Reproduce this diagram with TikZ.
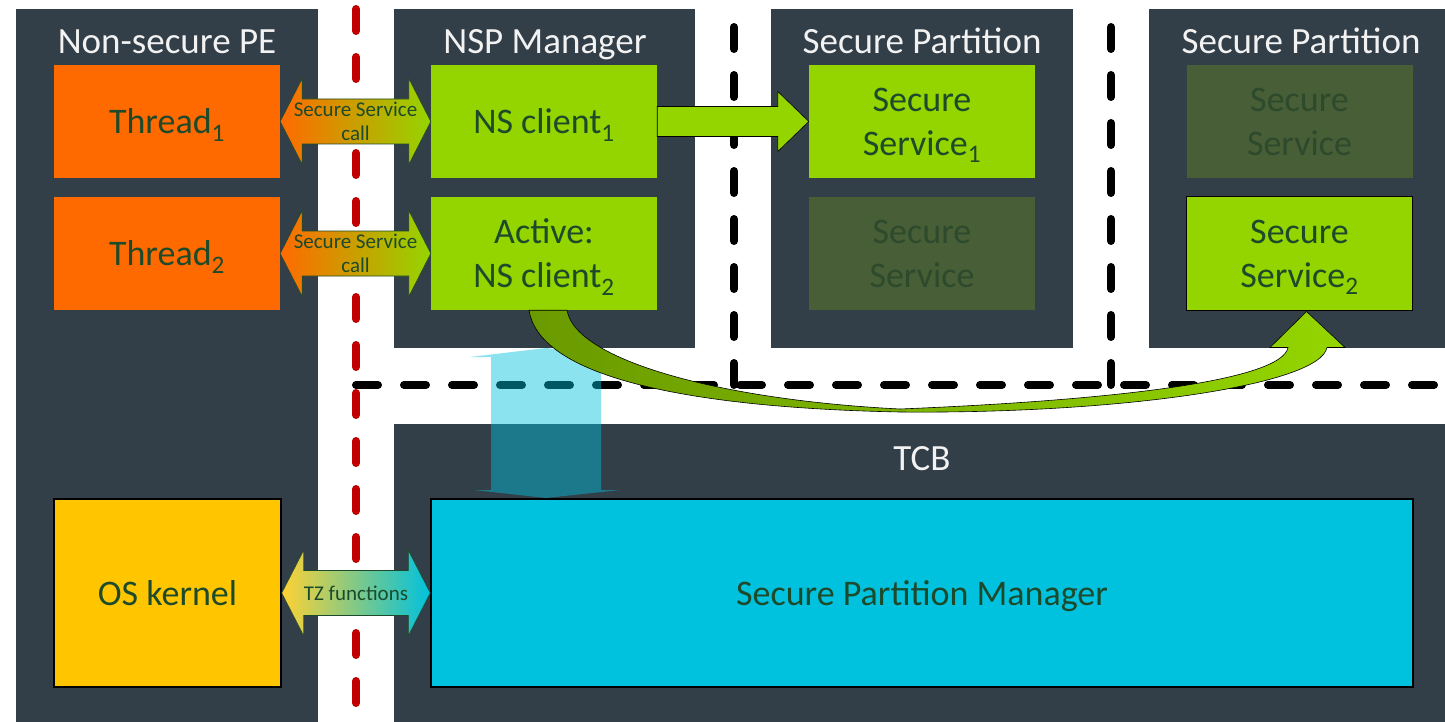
\documentclass[tikz,border=0pt]{standalone}
\usepackage{fontspec}
\setmainfont{Carlito}
\usetikzlibrary{calc}

\definecolor{panelgray}{HTML}{323E48}
\definecolor{titlewhite}{HTML}{F2F2F2}
\definecolor{boxtext}{HTML}{1D4A2A}
\definecolor{threadorange}{HTML}{FF6A00}
\definecolor{nsgreen}{HTML}{94D500}
\definecolor{curvedark}{HTML}{6A9A00}
\definecolor{dimfill}{HTML}{485E37}
\definecolor{dimtext}{HTML}{2D4A2C}
\definecolor{kernelyellow}{HTML}{FFC600}
\definecolor{spmcyan}{HTML}{00C1DE}
\definecolor{nsred}{HTML}{C00000}

\tikzset{
  box/.style={minimum width=226, minimum height=113, inner sep=0pt, align=center,
    text=boxtext, font=\fontsize{36}{44}\selectfont, text depth=-1pt},
  dimbox/.style={box, fill=dimfill, text=dimtext},
  title/.style={inner sep=0pt, anchor=base, text=titlewhite, font=\fontsize{37}{44}\selectfont},
  calllabel/.style={inner sep=0pt, align=center, text=boxtext, font=\fontsize{21}{24}\selectfont},
  panel/.style={fill=panelgray},
  nsdash/.style={draw=nsred, line width=8pt, line cap=round, dash pattern=on 22pt off 26pt},
  spdash/.style={draw=black, line width=8pt, line cap=round, dash pattern=on 22pt off 26pt},
}

% fat double arrow between two boxes: left node, right node, left colour, right colour, label
\newcommand{\calllink}[5]{%
  \path[draw=boxtext, line width=0.6pt, left color=#3, right color=#4]
    (#1.east) -- ($(#1.east)+(22,-43)$) -- ($(#1.east)+(22,-22.5)$)
    -- ($(#2.west)+(-22,-22.5)$) -- ($(#2.west)+(-22,-43)$) -- (#2.west)
    -- ($(#2.west)+(-22,43)$) -- ($(#2.west)+(-22,22.5)$)
    -- ($(#1.east)+(22,22.5)$) -- ($(#1.east)+(22,43)$) -- cycle;
  \node[calllabel] at ($(#1.east)!0.5!(#2.west)$) {#5};
}

\begin{document}
\begin{tikzpicture}[x=1pt, y=-1pt]
  \useasboundingbox (0,0) rectangle (1445,722);
  \fill[white] (0,0) rectangle (1445,722);

  % panels
  \fill[panel] (16,9) rectangle (318,722);
  \fill[panel] (394,9) rectangle (695,348);
  \fill[panel] (771,9) rectangle (1073,348);
  \fill[panel] (1149,9) rectangle (1445,348);
  \fill[panel] (394,424) rectangle (1445,722);

  % panel titles
  \node[title] (tns)  at (167,54)  {Non-secure PE};
  \node[title] (tnsp) at (545,54)  {NSP Manager};
  \node[title] (tsp1) at (922,54)  {Secure Partition};
  \node[title] (tsp2) at (1301,54) {Secure Partition};
  \node[title] (ttcb) at (922,470) {TCB};

  % boundaries
  \draw[nsdash] (356,9) -- (356,722);
  \draw[spdash] (356,385) -- (1445,385);
  \draw[spdash] (734,27) -- (734,385);
  \draw[spdash] (1111,27) -- (1111,385);

  % non-secure side
  \node[box, fill=threadorange] (th1) at (167,121.5) {Thread\textsubscript{1}};
  \node[box, fill=threadorange] (th2) at (167,253.5) {Thread\textsubscript{2}};
  \node[box, fill=kernelyellow, draw=black, line width=1.5pt, minimum width=227,
    minimum height=188] (osk) at (167.5,593) {OS kernel};

  % NSP manager
  \node[box, fill=nsgreen] (nc1) at (544,121.5) {NS client\textsubscript{1}};
  \node[box, fill=nsgreen] (nc2) at (544,253.5) {Active:\\NS client\textsubscript{2}};

  % secure partitions
  \node[box, fill=nsgreen] (ss1) at (922,121.5) {Secure\\Service\textsubscript{1}};
  \node[dimbox] (sd1) at (922,253.5) {Secure\\Service};
  \node[dimbox] (sd2) at (1299.5,121.5) {Secure\\Service};
  \node[box, fill=nsgreen, draw=black, line width=1pt] (ss2) at (1299.5,253.5)
    {Secure\\Service\textsubscript{2}};

  % TCB
  \node[box, fill=spmcyan, draw=black, line width=1.5pt, minimum width=982,
    minimum height=188] (spm) at (922,593) {Secure Partition Manager};

  % calls across the boundary
  \calllink{th1}{nc1}{threadorange}{nsgreen}{Secure Service\\call}
  \calllink{th2}{nc2}{threadorange}{nsgreen}{Secure Service\\call}
  \calllink{osk}{spm}{kernelyellow!80!white}{spmcyan}{TZ functions}

  % NS client 1 -> Secure Service 1
  \path[draw=black, line width=0.6pt, fill=nsgreen]
    ($(nc1.east)+(0,-15)$) -- ($(ss1.west)+(-31,-15)$) -- ($(ss1.west)+(-31,-30)$)
    -- (ss1.west) -- ($(ss1.west)+(-31,30)$) -- ($(ss1.west)+(-31,15)$)
    -- ($(nc1.east)+(0,15)$) -- cycle;

  % NSP manager <-> SPM
  \coordinate (nspfoot) at (546,348);
  \fill[spmcyan, opacity=0.45]
    ($(nspfoot)+(-55,9)$) -- ($(nspfoot)+(-76,9)$) -- (nspfoot) -- ($(nspfoot)+(74,9)$)
    -- ($(nspfoot)+(55,9)$) -- ($(nspfoot)+(55,142)$) -- ($(nspfoot)+(74,142)$)
    -- ($(nspfoot)+(0,150)$) -- ($(nspfoot)+(-72,142)$) -- ($(nspfoot)+(-55,142)$) -- cycle;

  % NS client 2 -> Secure Service 2
  \path[draw=black, line width=0.6pt, left color=curvedark, right color=nsgreen]
    ($(nc2.south)+(-15,0)$) .. controls (540,380) and (700,408) .. (900,412)
    .. controls (1120,414) and (1320,385) .. ($(ss2.south)+(27.5,37)$)
    -- ($(ss2.south)+(45.5,37)$) -- ($(ss2.south)+(7,1)$) -- ($(ss2.south)+(-29.5,37)$)
    -- ($(ss2.south)+(-11.5,37)$) .. controls (1282,380) and (1120,400) .. (900,409)
    .. controls (720,400) and (575,360) .. ($(nc2.south)+(23,0)$) -- cycle;
\end{tikzpicture}
\end{document}
